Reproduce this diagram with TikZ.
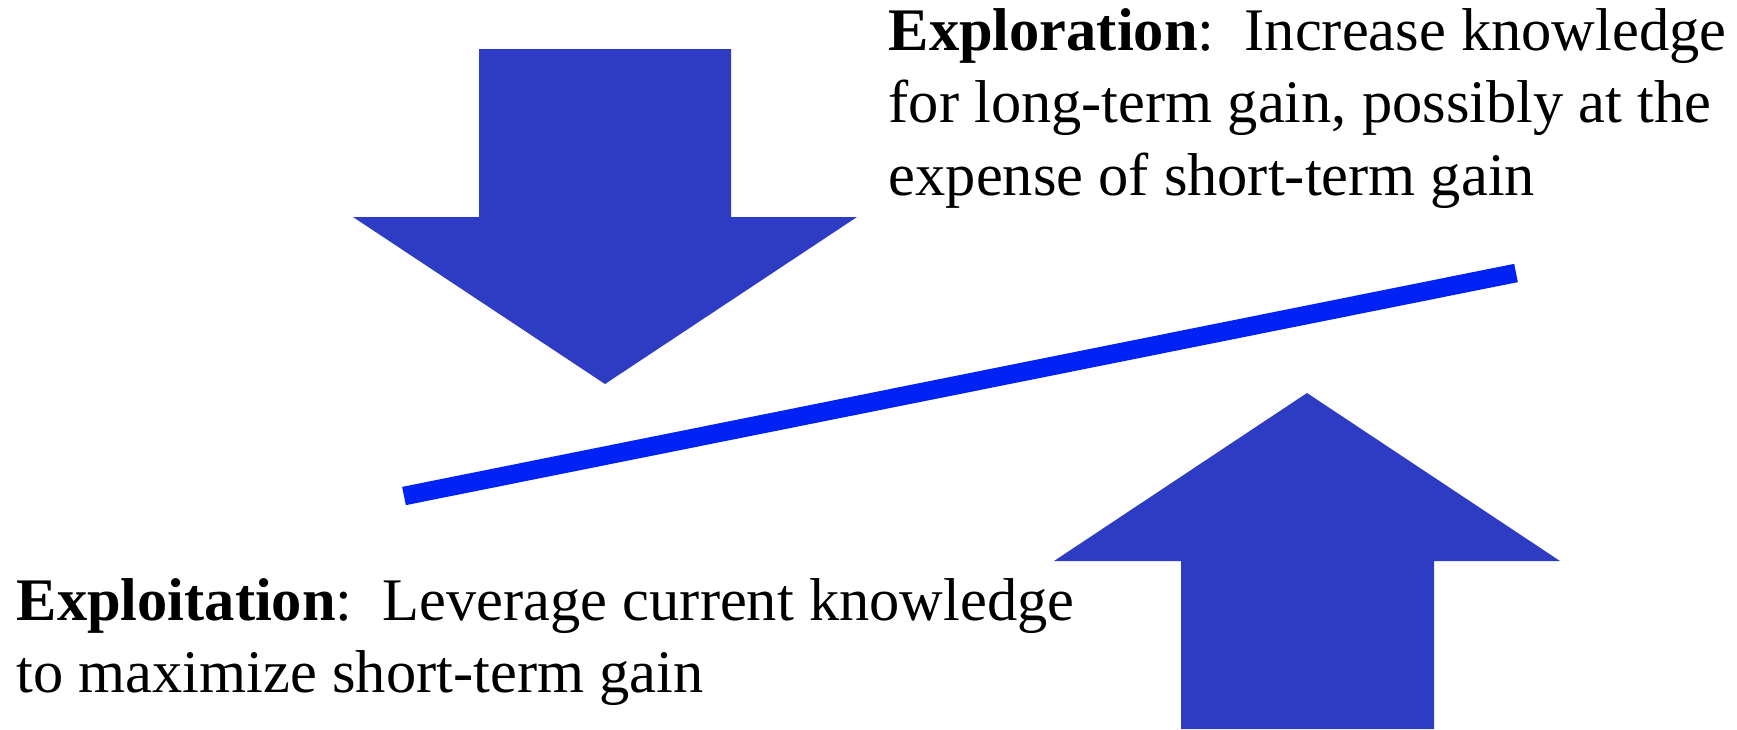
\documentclass[tikz,border=0pt]{standalone}
\usepackage{fontspec}
\setmainfont{Liberation Serif}
\usepackage{tikz}
\usetikzlibrary{positioning}
\definecolor{arrowblue}{RGB}{46,60,196}
\definecolor{lineblue}{RGB}{0,34,245}

\begin{document}
\begin{tikzpicture}[
    bigarrow/.style={fill=arrowblue},
    balance/.style={draw=lineblue, line width=5.3pt},
    blurb/.style={align=left, inner sep=0pt, anchor=base west,
      font=\fontsize{17.2pt}{20.6pt}\selectfont}]
  \useasboundingbox (0,0) rectangle (17.37,7.29);

  % Downward arrow - exploration
  \fill[bigarrow] (4.79,6.80) -- (7.31,6.80) -- (7.31,5.12) -- (8.57,5.12)
    -- (6.05,3.45) -- (3.53,5.12) -- (4.79,5.12) -- cycle;

  % Upward arrow - exploitation
  \fill[bigarrow] (11.81,0) -- (14.34,0) -- (14.34,1.68) -- (15.60,1.68)
    -- (13.07,3.36) -- (10.54,1.68) -- (11.81,1.68) -- cycle;

  % The tilted balance line
  \coordinate (lowend) at (4.04,2.33);
  \coordinate (highend) at (15.16,4.56);
  \draw[balance] (lowend) -- (highend);

  % Texts (base anchor sits on the last line)
  \node[blurb] (explore) at (8.88,5.34)
    {\textbf{Exploration}:\ \ Increase knowledge\\
     for long-term gain, possibly at the\\
     expense of short-term gain};
  \node[blurb] (exploit) at (0.16,0.363)
    {\textbf{Exploitation}:\ \ Leverage current knowledge\\
     to maximize short-term gain};
\end{tikzpicture}
\end{document}
